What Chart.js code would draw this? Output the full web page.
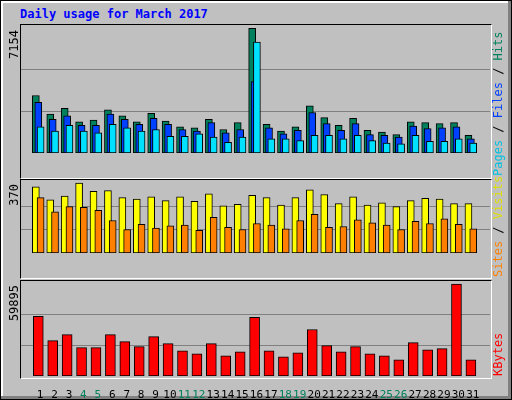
<!DOCTYPE html>
<html>
<head>
<meta charset="utf-8">
<script src="https://cdn.jsdelivr.net/npm/chart.js@4/dist/chart.umd.min.js"></script>
<style>
  body { margin: 0; background: #c0c0c0; }
  #frame { position: absolute; left: 0; top: 0; width: 510px; height: 398px; border: 1px solid #000;
           box-shadow: inset -3px -3px 0 #808080, inset 2px 2px 0 #fff; background: #c0c0c0; }
  #title { position: absolute; left: 20px; top: 7px; font: bold 12px "DejaVu Sans Mono", monospace; color: #0000ff; }
  .panel { position: absolute; left: 20px; width: 470px; border-top: 1px solid #000; border-left: 1px solid #000;
           border-right: 1px solid #fff; border-bottom: 1px solid #fff; }
  canvas { position: absolute; }
</style>
</head>
<body>
<div id="frame"></div>
<div id="title">Daily usage for March 2017</div>
<div class="panel" style="top:24px;height:153px"></div>
<div class="panel" style="top:179px;height:98px"></div>
<div class="panel" style="top:280px;height:97px"></div>
<canvas id="c1" style="left:21px;top:25px" width="469" height="152"></canvas>
<canvas id="c2" style="left:21px;top:180px" width="469" height="97"></canvas>
<canvas id="c3" style="left:21px;top:281px" width="469" height="119"></canvas>
<script>
const days = [1,2,3,4,5,6,7,8,9,10,11,12,13,14,15,16,17,18,19,20,21,22,23,24,25,26,27,28,29,30,31];
const weekendDays = [4,5,11,12,18,19,25,26];
const hits = [3301,2228,2569,1789,1886,2472,2130,1789,2276,1837,1496,1447,1935,1350,1740,7154,1642,1252,1496,2715,2033,1593,1984,1301,1203,1057,1789,1740,1691,1740,1008];
const files = [2911,1935,2130,1593,1593,2228,1935,1642,1984,1642,1350,1252,1740,1154,1350,4098,1447,1106,1301,2325,1691,1301,1691,1057,1008,911,1545,1398,1447,1496,813];
const pages = [1496,1252,1593,1252,1154,1642,1447,1252,1350,959,959,1106,911,618,911,6374,813,813,715,1008,1008,813,1008,715,569,520,1008,667,667,813,569];
const visits = [350,281,301,370,326,330,293,285,297,277,297,273,313,249,257,305,293,253,293,334,309,261,297,253,265,245,277,289,285,261,261];
const sites = [293,217,245,241,225,172,124,152,132,144,148,120,188,136,124,156,148,128,172,204,136,140,176,160,148,124,168,156,180,152,128];
const kbytes = [38834,23037,26986,18430,18430,26986,22379,19088,25670,21062,16455,14480,21062,13164,15797,38176,16455,12506,15139,30277,19746,15797,19088,14480,13164,10531,21721,17113,17772,59895,10531];
const maxLabels = ['7154', '370', '59895'];

const FONT = '"DejaVu Sans Mono", monospace';

function barSet(label, data, color, offset, width, order) {
  return {
    label: label,
    data: data.map((v, i) => ({ x: days[i] + offset, y: v })),
    backgroundColor: color,
    borderColor: '#000',
    borderWidth: 1,
    borderSkipped: false,
    barThickness: width,
    grouped: false,
    order: order
  };
}

// peak value sits a few pixels below the top of the panel
function makeChart(id, datasets, peak, headroom, showX) {
  const top = peak * headroom;
  return new Chart(document.getElementById(id), {
    type: 'bar',
    data: { datasets: datasets },
    options: {
      responsive: false,
      animation: false,
      layout: { padding: 0 },
      plugins: { legend: { display: false }, tooltip: { enabled: false } },
      scales: {
        x: {
          type: 'linear', min: 0.195, max: 31.67,
          display: showX,
          grid: { display: false },
          border: { display: false },
          afterBuildTicks: s => { s.ticks = days.map(d => ({ value: d })); },
          afterFit: s => { s.height = 24; },
          ticks: {
            autoSkip: false, maxRotation: 0, padding: 5,
            font: { family: FONT, size: 11 },
            color: c => weekendDays.includes(c.tick.value) ? '#00805c' : '#000',
            callback: v => String(v)
          }
        },
        y: {
          display: true, min: 0, max: top,
          grid: { color: '#808080', lineWidth: 1, drawTicks: false },
          border: { display: false },
          afterBuildTicks: s => { s.ticks = [{ value: peak / 3 }, { value: peak * 2 / 3 }]; },
          ticks: { display: false }
        }
      }
    }
  });
}

makeChart('c1', [
  barSet('Hits', hits, '#00805c', -0.3, 7, 3),
  barSet('Files', files, '#0040ff', -0.13, 7, 2),
  barSet('Pages', pages, '#00e0ff', 0.03, 7, 1)
], 7154, 151 / 147, false);
makeChart('c2', [
  barSet('Visits', visits, '#ffff00', -0.3, 7, 2),
  barSet('Sites', sites, '#ff8000', 0.03, 7, 1)
], 370, 97 / 93, false);
makeChart('c3', [
  barSet('KBytes', kbytes, '#ff0000', -0.13, 10, 1)
], 59895, 95 / 92, true);

// rotated axis texts on an overlay canvas
const ov = document.createElement('canvas');
ov.width = 512; ov.height = 400;
ov.style.left = '0px'; ov.style.top = '0px'; ov.style.pointerEvents = 'none';
document.body.appendChild(ov);
const g = ov.getContext('2d');
g.font = '12px ' + FONT;
g.textBaseline = 'middle';
g.textAlign = 'left';
function vtext(x, y, parts) {
  g.save();
  g.translate(x, y);
  g.rotate(-Math.PI / 2);
  let off = 0;
  parts.forEach(([t, c]) => { g.fillStyle = c; g.fillText(t, off, 0); off += g.measureText(t).width; });
  g.restore();
}
vtext(15, 30 + g.measureText(maxLabels[0]).width, [[maxLabels[0], '#000']]);
vtext(15, 184 + g.measureText(maxLabels[1]).width, [[maxLabels[1], '#000']]);
vtext(15, 285 + g.measureText(maxLabels[2]).width, [[maxLabels[2], '#000']]);
vtext(499, 176, [['Pages', '#00c0e0'], [' / ', '#000'], ['Files', '#0040ff'], [' / ', '#000'], ['Hits', '#00805c']]);
vtext(499, 277, [['Sites', '#ff8000'], [' / ', '#000'], ['Visits', '#e0e000']]);
vtext(499, 376, [['KBytes', '#ff0000']]);
</script>
</body>
</html>
